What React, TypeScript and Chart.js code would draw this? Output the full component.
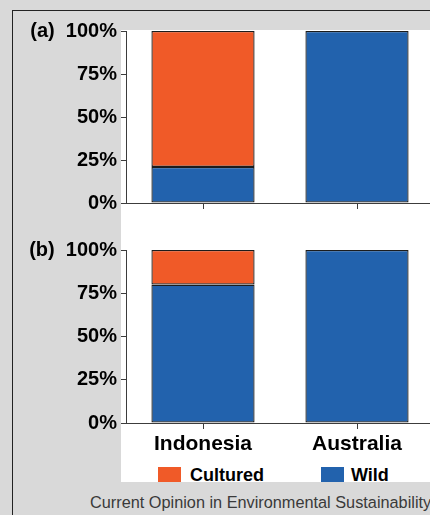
import React, { useEffect, useRef } from 'react';
import { Chart, registerables } from 'chart.js';

Chart.register(...registerables);

// ---- data ----
const categories = ['Indonesia', 'Australia'];
const wildA = [21, 100];
const culturedA = [79, null];
const wildB = [80, 100];
const culturedB = [20, null];
const yTicks = [0, 25, 50, 75, 100];
const panelLabels = ['(a)', '(b)'];
const seriesNames = ['Wild', 'Cultured'];
const seriesColors = ['#2262AD', '#F05A28'];
const caption = 'Current Opinion in Environmental Sustainability';

const FONT = '"Liberation Sans", Arial, Helvetica, sans-serif';
const AXIS = '#3c3c3c';

function makeConfig(wild: (number | null)[], cultured: (number | null)[], panel: string, showX: boolean, padTop: number, xHeight: number): any {
  const values = [wild, cultured];
  return {
    type: 'bar',
    data: {
      labels: categories,
      datasets: seriesNames.map((name, i) => ({
        label: name,
        data: values[i],
        backgroundColor: seriesColors[i],
        borderColor: '#1c1c1c',
        borderWidth: 1.3,
        borderSkipped: false,
        categoryPercentage: 1,
        barPercentage: 0.67,
      })),
    },
    options: {
      responsive: false,
      animation: false,
      layout: { padding: { top: padTop, right: 6, left: 0, bottom: 0 } },
      plugins: { legend: { display: false }, tooltip: { enabled: false } },
      scales: {
        x: {
          stacked: true,
          offset: true,
          grid: { offset: false, drawOnChartArea: false, drawTicks: true, tickLength: 6, color: AXIS },
          border: { display: true, color: AXIS, width: 1 },
          ticks: {
            display: showX,
            color: '#000',
            padding: 3,
            font: { family: FONT, size: 21, weight: 'bold' },
          },
          afterFit: (s: any) => { s.height = xHeight; },
        },
        y: {
          stacked: true,
          min: 0,
          max: 100,
          afterBuildTicks: (s: any) => { s.ticks = yTicks.map((v) => ({ value: v })); },
          ticks: {
            padding: 4,
            color: '#000',
            font: { family: FONT, size: 20, weight: 'bold' },
            callback: (v: any) => (v === 100 ? `${panel}  100%` : `${v}%`),
          },
          grid: { drawOnChartArea: false, drawTicks: true, tickLength: 5, color: AXIS },
          border: { display: true, color: AXIS, width: 1 },
          afterFit: (s: any) => { s.width = 126; },
        },
      },
    },
  };
}

export default function App() {
  const refA = useRef<HTMLCanvasElement>(null);
  const refB = useRef<HTMLCanvasElement>(null);

  useEffect(() => {
    const a = new Chart(refA.current!, makeConfig(wildA, culturedA, panelLabels[0], false, 31, 17));
    const b = new Chart(refB.current!, makeConfig(wildB, culturedB, panelLabels[1], true, 30, 47));
    return () => { a.destroy(); b.destroy(); };
  }, []);

  const legendOrder = [1, 0];
  const legendPos = [{ box: 37, text: 69 }, { box: 200, text: 230 }];

  return (
    <div style={{ position: 'fixed', left: 0, top: 0, width: 430, height: 515, overflow: 'hidden', background: '#d9d9d9', fontFamily: FONT }}>
      <div style={{ position: 'absolute', left: 12, top: 10, width: 600, height: 600, borderLeft: '1px solid #222', borderTop: '1px solid #222' }} />
      <div style={{ position: 'absolute', left: 121, top: 30, width: 309, height: 452, overflow: 'hidden', background: '#fff' }}>
        {legendOrder.map((si, k) => (
          <React.Fragment key={si}>
            <div style={{ position: 'absolute', left: legendPos[k].box, top: 437, width: 23, height: 17, background: seriesColors[si] }} />
            <div style={{ position: 'absolute', left: legendPos[k].text, top: 436, fontSize: 18, lineHeight: '18px', fontWeight: 'bold', color: '#000', whiteSpace: 'nowrap' }}>{seriesNames[si]}</div>
          </React.Fragment>
        ))}
      </div>
      <div style={{ position: 'absolute', left: 0, top: 0, width: 440, height: 220 }}>
        <canvas ref={refA} width={440} height={220} style={{ width: 440, height: 220, display: 'block' }} />
      </div>
      <div style={{ position: 'absolute', left: 0, top: 220, width: 440, height: 250 }}>
        <canvas ref={refB} width={440} height={250} style={{ width: 440, height: 250, display: 'block' }} />
      </div>
      <div style={{ position: 'absolute', left: 90, top: 494, fontSize: 16.3, lineHeight: '16px', color: '#3a3a3a', whiteSpace: 'nowrap' }}>{caption}</div>
    </div>
  );
}
